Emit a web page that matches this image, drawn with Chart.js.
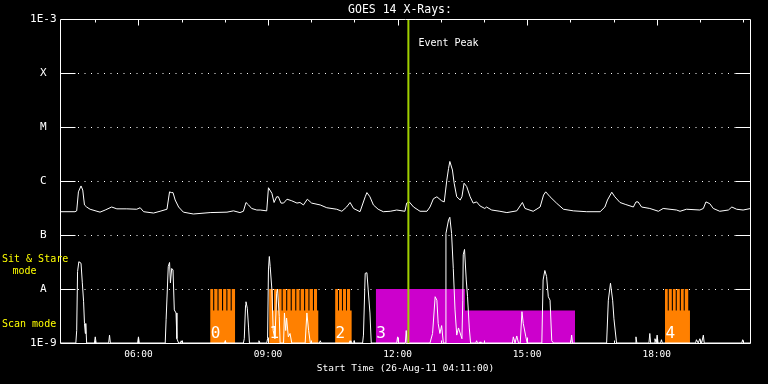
<!DOCTYPE html>
<html><head><meta charset="utf-8">
<script src="https://cdn.jsdelivr.net/npm/chart.js@4/dist/chart.umd.min.js"></script>
<style>html,body{margin:0;padding:0;background:#000;}canvas{display:block;background:#000;}</style>
</head><body>
<canvas id="c" width="768" height="384"></canvas>
<script>
// ---------- data ----------
const titleText = 'GOES 14 X-Rays:';
const xAxisTitle = 'Start Time (26-Aug-11 04:11:00)';
const timeRange = [4 + 11 / 60, 20 + 11 / 60];           // hours of day
const yTickValues = [1e-9, 1e-8, 1e-7, 1e-6, 1e-5, 1e-4, 1e-3];
const yTickLabels = ['1E-9', 'A', 'B', 'C', 'M', 'X', '1E-3'];
const xMajorTicks = [6, 9, 12, 15, 18];
const xTickLabels = ['06:00', '09:00', '12:00', '15:00', '18:00'];
const xMinorTicks = [5, 7, 8, 10, 11, 13, 14, 16, 17, 19, 20];
const eventPeakTime = [12.25];
const eventPeakLabel = 'Event Peak';
const SS = 1e-8, SCAN = 4e-9;                              // mode levels
const modeLabels = ['Sit & Stare', 'mode', 'Scan mode'];

// GOES long channel flux [hour, W/m2]
const fluxLong = [[4.19,2.7e-7],[4.53,2.7e-7],[4.57,2.8e-7],[4.61,6.3e-7],[4.67,8.1e-7],[4.71,6.8e-7],[4.75,3.6e-7],[4.80,3.3e-7],[4.88,3.0e-7],[5.04,2.75e-7],[5.11,2.65e-7],[5.23,2.9e-7],[5.38,3.3e-7],[5.50,3.05e-7],[5.73,3.05e-7],[5.96,3.0e-7],[6.04,3.2e-7],[6.12,2.7e-7],[6.35,2.55e-7],[6.50,2.75e-7],[6.66,3.0e-7],[6.72,6.3e-7],[6.76,6.1e-7],[6.80,6.1e-7],[6.85,4.45e-7],[6.93,3.3e-7],[7.04,2.65e-7],[7.27,2.45e-7],[7.66,2.6e-7],[8.05,2.65e-7],[8.20,2.8e-7],[8.35,2.6e-7],[8.43,2.75e-7],[8.49,4.0e-7],[8.55,3.6e-7],[8.62,3.1e-7],[8.74,2.9e-7],[8.82,2.9e-7],[8.97,2.8e-7],[9.01,7.5e-7],[9.09,5.9e-7],[9.14,4.0e-7],[9.20,5.1e-7],[9.24,5.1e-7],[9.30,3.9e-7],[9.36,3.9e-7],[9.44,4.6e-7],[9.55,4.3e-7],[9.67,3.9e-7],[9.74,4.0e-7],[9.82,3.6e-7],[9.91,4.6e-7],[10.01,3.9e-7],[10.21,3.6e-7],[10.36,3.2e-7],[10.59,3.0e-7],[10.71,2.75e-7],[10.82,3.3e-7],[10.90,4.0e-7],[10.98,3.1e-7],[11.13,2.7e-7],[11.25,5.1e-7],[11.29,6.1e-7],[11.36,5.1e-7],[11.44,3.6e-7],[11.55,3.0e-7],[11.67,2.7e-7],[11.83,2.75e-7],[11.98,2.9e-7],[12.17,2.75e-7],[12.21,3.9e-7],[12.27,4.1e-7],[12.37,3.3e-7],[12.52,2.75e-7],[12.68,2.75e-7],[12.75,3.3e-7],[12.83,4.7e-7],[12.91,5.1e-7],[13.02,4.3e-7],[13.08,4.1e-7],[13.14,1.04e-6],[13.18,1.7e-6],[13.21,2.3e-6],[13.27,1.6e-6],[13.31,9.1e-7],[13.37,5.1e-7],[13.45,4.45e-7],[13.49,5.1e-7],[13.54,9.1e-7],[13.60,7.9e-7],[13.68,5.1e-7],[13.75,3.9e-7],[13.83,4.1e-7],[13.91,3.45e-7],[14.02,3.1e-7],[14.06,3.3e-7],[14.18,2.9e-7],[14.37,2.75e-7],[14.53,2.6e-7],[14.76,2.8e-7],[14.89,4.0e-7],[14.95,3.1e-7],[15.14,2.75e-7],[15.30,3.3e-7],[15.38,5.5e-7],[15.43,6.3e-7],[15.53,5.1e-7],[15.68,3.9e-7],[15.84,3.0e-7],[16.07,2.8e-7],[16.38,2.7e-7],[16.69,2.7e-7],[16.80,3.3e-7],[16.86,4.45e-7],[16.96,6.2e-7],[17.03,5.1e-7],[17.15,4.0e-7],[17.27,3.7e-7],[17.46,3.3e-7],[17.52,4.1e-7],[17.57,4.1e-7],[17.65,3.3e-7],[17.84,3.1e-7],[18.04,2.75e-7],[18.15,3.1e-7],[18.46,2.9e-7],[18.54,2.75e-7],[18.69,3.0e-7],[19.00,2.9e-7],[19.08,3.1e-7],[19.14,4.1e-7],[19.23,3.8e-7],[19.31,3.1e-7],[19.46,2.75e-7],[19.66,2.9e-7],[19.74,3.3e-7],[19.85,3.0e-7],[20.00,2.9e-7],[20.18,3.1e-7]];

// lower (spiky) trace [hour, value]
const fluxLow = [[4.19,1e-9],[4.55,1e-9],[4.57,1.7e-9],[4.59,2.1e-8],[4.62,3.2e-8],[4.67,3.0e-8],[4.70,1.3e-8],[4.73,5.8e-9],[4.75,2.3e-9],[4.77,1.5e-9],[4.78,2.3e-9],[4.80,1e-9],
[4.98,1e-9],[5.00,1.3e-9],[5.02,1e-9],[5.31,1e-9],[5.33,1.4e-9],[5.35,1e-9],[5.98,1e-9],[6.00,1.3e-9],[6.02,1e-9],
[6.62,1e-9],[6.64,2.7e-9],[6.69,2.6e-8],[6.72,3.1e-8],[6.74,1.3e-8],[6.77,2.4e-8],[6.80,2.25e-8],[6.83,4.1e-9],[6.87,3.6e-9],[6.89,1.2e-9],[6.93,1e-9],
[6.97,1e-9],[6.99,1.1e-9],[7.01,1e-9],[7.99,1e-9],[8.01,1.1e-9],[8.03,1e-9],
[8.43,1e-9],[8.45,1.2e-9],[8.48,5.0e-9],[8.49,5.8e-9],[8.52,4.4e-9],[8.55,1.9e-9],[8.57,1e-9],
[8.77,1e-9],[8.79,1.1e-9],[8.81,1e-9],
[8.97,1e-9],[8.99,1.2e-9],[9.01,2.25e-8],[9.03,4.0e-8],[9.05,2.6e-8],[9.09,9.6e-9],[9.12,1.7e-9],[9.16,1.2e-9],[9.20,8.3e-9],[9.22,1.0e-8],[9.26,3.1e-9],[9.28,1e-9],
[9.36,1e-9],[9.38,3.6e-9],[9.41,1.7e-9],[9.43,2.9e-9],[9.47,1.3e-9],[9.51,1.5e-9],[9.55,1e-9],
[9.86,1e-9],[9.90,3.6e-9],[9.94,1.7e-9],[9.98,1e-9],[10.19,1e-9],[10.21,1.1e-9],[10.23,1e-9],
[10.88,1e-9],[10.90,1.1e-9],[10.92,1e-9],[10.97,1e-9],[10.99,1.1e-9],[11.01,1e-9],
[11.19,1e-9],[11.21,1.4e-9],[11.25,1.95e-8],[11.29,2.0e-8],[11.32,9.6e-9],[11.36,3.6e-9],[11.39,1e-9],
[11.98,1e-9],[12.00,1.3e-9],[12.02,1e-9],[12.18,1e-9],[12.20,1.7e-9],[12.22,1e-9],
[12.75,1e-9],[12.81,1.5e-9],[12.87,7.2e-9],[12.91,6.2e-9],[12.94,2.3e-9],[12.98,1.5e-9],[13.02,2.1e-9],[13.06,1e-9],
[13.10,1e-9],[13.12,1.07e-7],[13.18,1.9e-7],[13.21,2.13e-7],[13.25,1.07e-7],[13.29,2.4e-8],[13.33,4.1e-9],[13.37,1.4e-9],[13.41,1.9e-9],[13.49,1.2e-9],
[13.51,6.2e-9],[13.52,4.3e-8],[13.55,5.4e-8],[13.59,1.47e-8],[13.62,7.2e-9],[13.66,1.9e-9],[13.69,1e-9],
[13.81,1e-9],[13.83,1.1e-9],[13.85,1e-9],[13.89,1e-9],[13.91,1.05e-9],[13.93,1e-9],
[14.66,1e-9],[14.68,1.3e-9],[14.72,1e-9],[14.76,1.35e-9],[14.80,1e-9],
[14.84,1e-9],[14.88,3.8e-9],[14.91,2.3e-9],[14.97,1.3e-9],[15.00,1e-9],
[15.34,1e-9],[15.37,1.47e-8],[15.41,2.2e-8],[15.45,1.7e-8],[15.49,7.2e-9],[15.53,6.2e-9],[15.57,1.1e-9],[15.61,1e-9],
[16.01,1e-9],[16.03,1.4e-9],[16.05,1e-9],
[16.84,1e-9],[16.88,6.2e-9],[16.93,1.28e-8],[16.98,6.2e-9],[17.01,2.8e-9],[17.07,1e-9],
[17.50,1e-9],[17.52,1.3e-9],[17.54,1e-9],[17.82,1e-9],[17.84,1.5e-9],[17.86,1e-9],
[17.94,1e-9],[17.96,1.2e-9],[17.99,1e-9],[18.01,1.4e-9],[18.03,1e-9],[18.09,1e-9],[18.11,1.15e-9],[18.13,1e-9],
[18.90,1e-9],[18.92,1.15e-9],[18.96,1e-9],[19.00,1.2e-9],[19.04,1e-9],[19.08,1.4e-9],[19.10,1e-9],
[19.97,1e-9],[19.99,1.15e-9],[20.01,1e-9],[20.18,1e-9]];

// observing-mode blocks: step points [hour, mode level]
const block0 = [[7.66,SS],[7.73,SCAN],[7.755,SS],[7.83,SCAN],[7.855,SS],[7.935,SCAN],[7.96,SS],[8.035,SCAN],[8.06,SS],[8.135,SCAN],[8.16,SS],[8.24,SS]];
const block1 = [[9.025,SS],[9.115,SCAN],[9.14,SS],[9.215,SCAN],[9.24,SS],[9.315,SCAN],[9.34,SS],[9.42,SCAN],[9.445,SS],[9.525,SCAN],[9.55,SS],[9.63,SCAN],[9.655,SS],[9.73,SCAN],[9.755,SS],[9.835,SCAN],[9.86,SS],[9.935,SCAN],[9.96,SS],[10.04,SCAN],[10.065,SS],[10.135,SCAN],[10.17,SCAN]];
const block2 = [[10.553,SS],[10.62,SCAN],[10.643,SS],[10.712,SCAN],[10.735,SS],[10.805,SCAN],[10.828,SS],[10.90,SCAN],[10.94,SCAN]];
const block3 = [[11.495,SS],[13.56,SCAN],[16.11,SCAN]];
const block4 = [[18.192,SS],[18.255,SCAN],[18.28,SS],[18.35,SCAN],[18.375,SS],[18.44,SCAN],[18.465,SS],[18.535,SCAN],[18.56,SS],[18.625,SCAN],[18.65,SS],[18.73,SCAN],[18.77,SCAN]];
const blocks = [block0, block1, block2, block3, block4];
const blockLabels = ['0', '1', '2', '3', '4'];

// ---------- styles ----------
const blockColors = ['#ff8000', '#ff8000', '#ff8000', '#cc00cc', '#ff8000'];
const MONO = "'DejaVu Sans Mono', monospace";
Chart.defaults.font.family = MONO;
Chart.defaults.color = '#ffffff';

const toXY = arr => arr.map(([x, y]) => ({x, y}));
const lineDs = (data, color, w) => ({data: toXY(data), borderColor: color, borderWidth: w,
  pointRadius: 0, tension: 0, fill: false});

const datasets = [
  lineDs(eventPeakTime.flatMap(t => [[t, yTickValues[0]], [t, yTickValues[yTickValues.length - 1]]]), '#a0d000', 2),
  lineDs(fluxLong, '#ffffff', 1),
  lineDs(fluxLow, '#ffffff', 1),
  ...blocks.map((b, i) => ({data: toXY(b), stepped: true, fill: 'start', backgroundColor: blockColors[i],
    borderWidth: 0, borderColor: 'rgba(0,0,0,0)', pointRadius: 0}))
];

const decor = {
  id: 'decor',
  beforeDatasetsDraw(chart) {
    const {ctx, chartArea: a, scales: {y}} = chart;
    ctx.save();
    ctx.strokeStyle = '#ffffff'; ctx.lineWidth = 1; ctx.setLineDash([1, 5.5]);
    yTickValues.slice(1, -1).forEach(v => {
      const py = Math.round(y.getPixelForValue(v)) + 0.5;
      ctx.beginPath(); ctx.moveTo(a.left + 18, py); ctx.lineTo(a.right - 15, py); ctx.stroke();
    });
    ctx.restore();
  },
  afterDatasetsDraw(chart) {
    const {ctx, chartArea: a, scales: {x, y}} = chart;
    ctx.save();
    ctx.strokeStyle = '#ffffff'; ctx.lineWidth = 1;
    const L = a.left + 0.5, R = a.right - 0.5, T = a.top + 0.5, B = a.bottom + 0.5;
    ctx.beginPath();
    ctx.moveTo(L, T); ctx.lineTo(R, T); ctx.lineTo(R, B); ctx.lineTo(L, B); ctx.closePath();
    yTickValues.slice(1, -1).forEach(v => {
      const py = Math.round(y.getPixelForValue(v)) + 0.5;
      ctx.moveTo(L, py); ctx.lineTo(L + 15, py);
      ctx.moveTo(R, py); ctx.lineTo(R - 15, py);
    });
    const xt = (vals, len) => vals.forEach(v => {
      const px = Math.round(x.getPixelForValue(v)) + 0.5;
      ctx.moveTo(px, B); ctx.lineTo(px, B - len);
      ctx.moveTo(px, T); ctx.lineTo(px, T + len);
    });
    xt(xMajorTicks, 6); xt(xMinorTicks, 3);
    ctx.stroke();

    // texts
    ctx.fillStyle = '#ffffff';
    ctx.textBaseline = 'middle';
    ctx.textAlign = 'center';
    ctx.font = '11.5px ' + MONO;
    ctx.fillText(titleText, (a.left + a.right) / 2 - 5.5, 10);
    ctx.textAlign = 'left';
    ctx.font = '10px ' + MONO;
    eventPeakTime.forEach(t => ctx.fillText(eventPeakLabel, x.getPixelForValue(t) + 10, a.top + 24));
    // mode labels
    ctx.fillStyle = '#ffff00';
    ctx.fillText(modeLabels[0], 2, y.getPixelForValue(SS) - 30);
    ctx.textAlign = 'center';
    ctx.fillText(modeLabels[1], 24.5, y.getPixelForValue(SS) - 18);
    ctx.textAlign = 'left';
    ctx.fillText(modeLabels[2], 2, y.getPixelForValue(SCAN) + 14);
    // block numbers
    ctx.fillStyle = '#ffffff';
    ctx.font = '16px ' + MONO;
    ctx.textBaseline = 'alphabetic';
    blocks.forEach((b, i) => ctx.fillText(blockLabels[i], x.getPixelForValue(b[0][0]) + 0.5, a.bottom - 5));
    ctx.restore();
  }
};

new Chart(document.getElementById('c'), {
  type: 'line',
  data: {datasets},
  options: {
    responsive: false, animation: false, events: [],
    layout: {padding: {top: 19, right: 17, bottom: 0, left: 0}},
    plugins: {legend: {display: false}, tooltip: {enabled: false}},
    scales: {
      x: {
        type: 'linear', min: timeRange[0], max: timeRange[1],
        grid: {display: false, drawTicks: false}, border: {display: false},
        afterBuildTicks: s => { s.ticks = xMajorTicks.map(v => ({value: v})); },
        afterFit: s => { s.height = 41; },
        ticks: {autoSkip: false, maxRotation: 0, padding: 6, color: '#ffffff',
          font: {size: 9.5}, callback: (v, i) => xTickLabels[i]},
        title: {display: true, text: xAxisTitle, color: '#ffffff', font: {size: 9.5},
          padding: {top: 0, bottom: 9.3}}
      },
      y: {
        type: 'logarithmic', min: yTickValues[0], max: yTickValues[yTickValues.length - 1],
        grid: {display: false, drawTicks: false}, border: {display: false},
        afterBuildTicks: s => { s.ticks = yTickValues.map(v => ({value: v})); },
        afterFit: s => { s.width = 60; },
        ticks: {autoSkip: false, padding: 3.5, crossAlign: 'center', color: '#ffffff',
          font: {size: 11}, callback: (v, i) => yTickLabels[i]}
      }
    }
  },
  plugins: [decor]
});
</script>
</body></html>
